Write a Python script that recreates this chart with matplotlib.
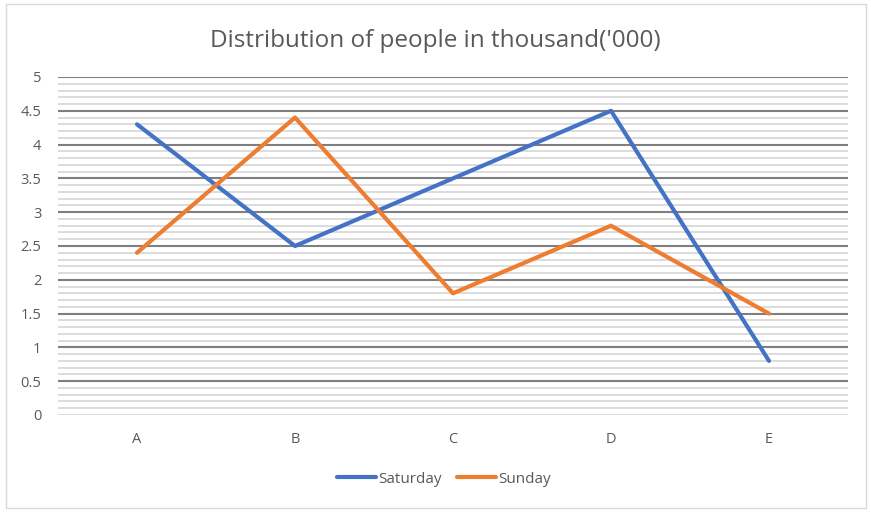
import numpy as np
import matplotlib as mpl
mpl.use("Agg")
import matplotlib.pyplot as plt
from matplotlib.patches import Rectangle

cats = ["A", "B", "C", "D", "E"]
saturday = [4.3, 2.5, 3.5, 4.5, 0.8]
sunday = [2.4, 4.4, 1.8, 2.8, 1.5]

plt.rcParams["font.family"] = ["Open Sans", "DejaVu Sans"]
fig = plt.figure(figsize=(8.71, 5.15), dpi=100)
fig.patches.append(Rectangle((0.007, 0.014), 0.987, 0.978, transform=fig.transFigure,
                             fill=False, ec="#d9d9d9", lw=1))
ax = fig.add_axes([0.0666, 0.1942, 0.907, 0.6563])
x = np.arange(len(cats))
ax.set_xlim(-0.5, len(cats) - 0.5)
ax.set_ylim(0, 5)
# minor grid every 0.1, major every 0.5
for v in np.arange(0, 5.001, 0.1):
    major = abs(v * 2 - round(v * 2)) < 1e-6 and v > 1e-6
    ax.axhline(v, color="#7f7f7f" if major else "#d9d9d9", lw=1.5 if major else 1.3, zorder=1)
ax.plot(x, saturday, color="#4472c4", lw=3, label="Saturday", zorder=3, solid_capstyle="round")
ax.plot(x, sunday, color="#ed7d31", lw=3, label="Sunday", zorder=3, solid_capstyle="round")
ax.set_yticks(np.arange(0, 5.01, 0.5))
ax.set_yticklabels(["0", "0.5", "1", "1.5", "2", "2.5", "3", "3.5", "4", "4.5", "5"])
ax.set_xticks(x)
ax.set_xticklabels(cats)
ax.tick_params(length=0, labelsize=10.5, colors="#595959", pad=12)
ax.tick_params(axis="y", pad=12)
for s in ax.spines.values():
    s.set_visible(False)
fig.text(0.5, 0.92, "Distribution of people in thousand('000)", ha="center", va="center",
         fontsize=17.5, color="#595959")
ax.legend(loc="center", bbox_to_anchor=(0.488, -0.19), ncol=2, frameon=False, fontsize=11,
          labelcolor="#595959", handlelength=2.6, handletextpad=0.1, columnspacing=1.0)
fig.savefig("out.png", dpi=100)
